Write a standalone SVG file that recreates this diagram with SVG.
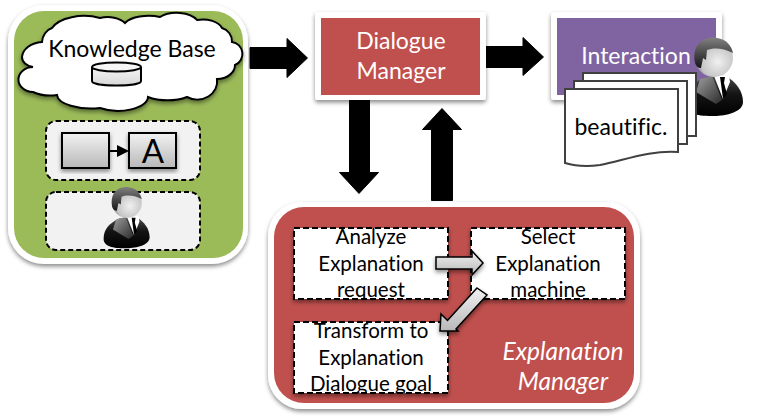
<svg xmlns="http://www.w3.org/2000/svg" width="779" height="419" viewBox="0 0 779 419">
<style>
text{font-family:Lato,"Noto Sans","Liberation Sans",sans-serif;text-anchor:middle;font-variant-ligatures:none}
.b{fill:#000;font-size:20.500px}
.w{fill:#fff;font-size:23px}
.e{fill:#fff;font-size:24.500px;font-style:italic}
.dash{fill:#fff;stroke:#000;stroke-width:2;stroke-dasharray:6 3;filter:url(#sh)}
.dg{fill:#f2f2f2;stroke:#000;stroke-width:2;stroke-dasharray:5 3}
.big{fill:#000;stroke:#000;stroke-width:1;stroke-linejoin:round}
.frame{fill:#fff;filter:url(#sh)}
.grey{fill:url(#gr);stroke:#000;stroke-width:2;filter:url(#sh)}
.page{fill:#fff;stroke:#404040;stroke-width:2}
.ga{fill:url(#gr);stroke:#000;stroke-width:1.500;filter:url(#sh)}
</style>
<defs>
<filter id="sh" x="-15%" y="-15%" width="130%" height="130%"><feDropShadow dx="0" dy="2.500" stdDeviation="2" flood-color="#000" flood-opacity="0.45"/></filter>
<clipPath id="c1"><rect x="294" y="228" width="154" height="71"/></clipPath>
<clipPath id="c2"><rect x="471" y="228" width="154" height="71"/></clipPath>
<clipPath id="c3"><rect x="294" y="322" width="154" height="71"/></clipPath>
<linearGradient id="gr" x1="0" y1="0" x2="0" y2="1"><stop offset="0" stop-color="#f2f2f2"/><stop offset="1" stop-color="#b8b8b8"/></linearGradient>
<linearGradient id="cyl" x1="0" y1="0" x2="0" y2="1"><stop offset="0" stop-color="#f4f4f4"/><stop offset="1" stop-color="#d8d8d8"/></linearGradient>
<radialGradient id="head" cx="0.6" cy="0.6" r="0.6"><stop offset="0" stop-color="#f0f0f0"/><stop offset="0.75" stop-color="#c4c4c4"/><stop offset="1" stop-color="#7a7a7a"/></radialGradient>
<linearGradient id="hair" x1="0" y1="0" x2="0" y2="1"><stop offset="0" stop-color="#808080"/><stop offset="1" stop-color="#161616"/></linearGradient>
<linearGradient id="suit" x1="0" y1="0" x2="0" y2="1"><stop offset="0" stop-color="#4a4a4a"/><stop offset="0.45" stop-color="#141414"/><stop offset="1" stop-color="#000"/></linearGradient>
<linearGradient id="lap" x1="0" y1="0" x2="1" y2="1"><stop offset="0" stop-color="#a0a0a0"/><stop offset="1" stop-color="#2a2a2a"/></linearGradient>
<g id="person">
<path d="M-30,46 C-30,33 -22,26 -10,20 L12,18 C22,24 29,33 29,44 C29,54 12,58 0,58 C-14,58 -30,57 -30,46 Z" fill="url(#suit)"/>
<path d="M-14,21 L-2,18 L8,42 L2,46 L-18,34 Z" fill="url(#lap)"/>
<path d="M0,18 L15,17 L16,24 L9,41 Z" fill="#fff"/>
<path d="M6,19 L11,19 L10,25 L13,36 L9,41 L7,26 Z" fill="#000"/>
<circle cx="0" cy="0" r="19" fill="url(#head)"/>
<path d="M-19,5 C-23,-17 -6,-22 3,-20 C13,-19 18,-11 19,-5 C8,-11 -2,-10 -7,-8 L-8,2 L-11,0 L-13,10 C-16,10 -18,8 -19,5 Z" fill="url(#hair)"/>
</g>
</defs>

<g id="connectors">
<path class="big" d="M250,47.500H287V38.500L307.500,58L287,77.500V68.500H250Z"/>
<path class="big" d="M486,46.500H523V37.500L543.500,57L523,75.500V67.500H486Z"/>
<path class="big" d="M349.500,100H369.500V172.500H378.500L359,193.500L339.500,172.500H349.500Z"/>
<path class="big" d="M431.500,200.500H452.500V129.500H461.500L442,108.500L422.500,129.500H431.500Z"/>
</g>

<g id="knowledge-panel">
<rect x="8" y="5" width="240" height="259" rx="36" class="frame"/>
<rect x="14" y="11" width="229" height="247" rx="30" fill="#9bbb59"/>
<g id="knowledge-base">
<path d="M42,42 A14,16 0 0 1 52,28 A34,18 0 0 1 100,18 A20,12 0 0 1 125,23 A26,12 0 0 1 160,17 A22,12 0 0 1 197,20 A20,12 0 0 1 222,28 A14,14 0 0 1 232,42 A12,12 0 0 1 235,65 A18,14 0 0 1 217,79 A20,18 0 0 1 187,97 A30,14 0 0 1 148,97 A30,14 0 0 1 100,108 A34,14 0 0 1 57,95 A26,14 0 0 1 33,92 A14,12 0 0 1 33,67 A14,10 0 0 1 22,57 A22,16 0 0 1 42,42 Z" fill="#fff" stroke="#000" stroke-width="2" filter="url(#sh)"/>
<text x="132" y="57" style="font-size:23px;fill:#000">Knowledge Base</text>
<path d="M92,68 V81 C92,87 141,87 141,81 V68 Z" fill="url(#cyl)" stroke="#000" stroke-width="2"/>
<ellipse cx="116.500" cy="67" rx="24.500" ry="4.500" fill="#f6f6f6" stroke="#000" stroke-width="2"/>
</g>
<g id="process-box">
<rect x="46" y="121" width="154" height="59" rx="10" class="dg"/>
<rect x="62" y="133" width="47" height="35" class="grey"/>
<rect x="129" y="133" width="47" height="35" class="grey"/>
<path d="M109,151H120" stroke="#000" stroke-width="2"/>
<path d="M117,145L129,151L117,157Z"/>
<text x="153" y="163" style="font-size:33px">A</text>
</g>
<g id="user-box">
<rect x="46" y="192" width="154" height="58" rx="10" class="dg"/>
<use href="#person" transform="translate(127,203) scale(0.78)"/>
</g>
</g>

<g id="dialogue-manager">
<rect x="315" y="12" width="171" height="88" rx="3" class="frame"/>
<rect x="321" y="18" width="159" height="77" fill="#c0504d"/>
<text class="w" x="401" y="49">Dialogue</text>
<text class="w" x="401" y="79">Manager</text>
</g>

<g id="interaction">
<rect x="551" y="12" width="171" height="88" rx="3" class="frame"/>
<rect x="557" y="18" width="159" height="77" fill="#8064a2"/>
<text class="w" x="636" y="64">Interaction</text>
<use href="#person" transform="translate(714,58)"/>
<path class="page" d="M583,73H696V136H583Z"/>
<path class="page" d="M574,81H687V144H574Z"/>
<path class="page" d="M565,89H678V152C650,150 625,160 600,165C585,167 575,166 565,163Z"/>
<text x="621" y="135" style="font-size:23px;fill:#000">beautific.</text>
</g>

<g id="explanation-manager">
<rect x="268" y="202" width="372" height="207" rx="34" class="frame"/>
<rect x="274" y="207" width="360" height="196" rx="30" fill="#c0504d"/>
<g id="analyze">
<rect x="294" y="228" width="154" height="71" class="dash"/>
<g clip-path="url(#c1)">
<text class="b" x="371" y="244">Analyze</text>
<text class="b" x="371" y="271">Explanation</text>
<text class="b" x="371" y="297">request</text>
</g>
</g>
<g id="select">
<rect x="471" y="228" width="154" height="71" class="dash"/>
<g clip-path="url(#c2)">
<text class="b" x="548" y="244">Select</text>
<text class="b" x="548" y="271">Explanation</text>
<text class="b" x="548" y="297">machine</text>
</g>
</g>
<g id="transform">
<rect x="294" y="322" width="154" height="71" class="dash"/>
<g clip-path="url(#c3)">
<text class="b" x="371" y="338">Transform to</text>
<text class="b" x="371" y="365">Explanation</text>
<text class="b" x="371" y="391">Dialogue goal</text>
</g>
</g>
<text class="e" x="563" y="360">Explanation</text>
<text class="e" x="563" y="390">Manager</text>
</g>
<g id="inner-arrows">
<path class="ga" d="M436,257H472V251L483,263L472,275V269H436Z"/>
<path class="ga" d="M477,288L487,295L456,329L458,331L440,331L441,314L447.500,320.500Z"/>
</g>
</svg>
